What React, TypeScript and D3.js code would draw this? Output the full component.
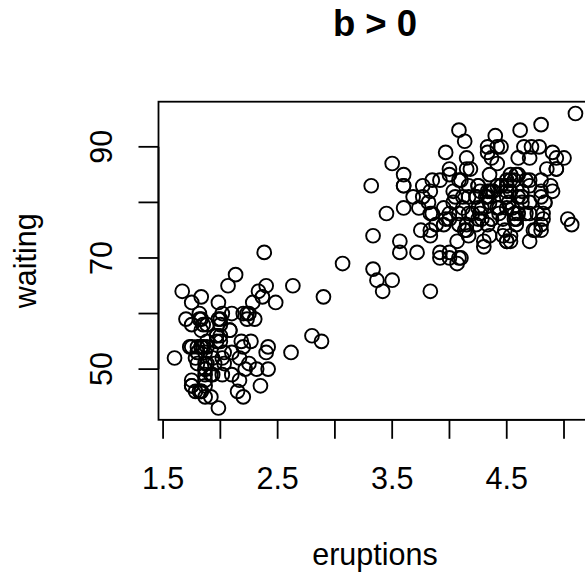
import React from "react";
import * as d3 from "d3";

const eruptions = [3.6,1.8,3.333,2.283,4.533,2.883,4.7,3.6,1.95,4.35,1.833,3.917,4.2,1.75,4.7,2.167,1.75,4.8,1.6,4.25,1.8,1.75,3.45,3.067,4.533,3.6,1.967,4.083,3.85,4.433,4.3,4.467,3.367,4.033,3.833,2.017,1.867,4.833,1.833,4.783,4.35,1.883,4.567,1.75,4.533,3.317,3.833,2.1,4.633,2,4.8,4.716,1.833,4.833,1.733,4.883,3.717,1.667,4.567,4.317,2.233,4.5,1.75,4.8,1.817,4.4,4.167,4.7,2.067,4.7,4.033,1.967,4.5,4,1.983,5.067,2.017,4.567,3.883,3.6,4.133,4.333,4.1,2.633,4.067,4.933,3.95,4.517,2.167,4,2.2,4.333,1.867,4.817,1.833,4.3,4.667,3.75,1.867,4.9,2.483,4.367,2.1,4.5,4.05,1.867,4.7,1.783,4.85,3.683,4.733,2.3,4.9,4.417,1.7,4.633,2.317,4.6,1.817,4.417,2.617,4.067,4.25,1.967,4.6,3.767,1.917,4.5,2.267,4.65,1.867,4.167,2.8,4.333,1.833,4.383,1.883,4.933,2.033,3.733,4.233,2.233,4.533,4.817,4.333,1.983,4.633,2.017,5.1,1.8,5.033,4,2.4,4.6,3.567,4,4.5,4.083,1.8,3.967,2.2,4.15,2,3.833,3.5,4.583,2.367,5,1.933,4.617,1.917,2.083,4.583,3.333,4.167,4.333,4.5,2.417,4,4.167,1.883,4.583,4.25,3.767,2.033,4.433,4.083,1.833,4.417,2.183,4.8,1.833,4.8,4.1,3.966,4.233,3.5,4.366,2.25,4.667,2.1,4.35,4.133,1.867,4.6,1.783,4.367,3.85,1.933,4.5,2.383,4.7,1.867,3.833,3.417,4.233,2.4,4.8,2,4.15,1.867,4.267,1.75,4.483,4,4.117,4.083,4.267,3.917,4.55,4.083,2.417,4.183,2.217,4.45,1.883,1.85,4.283,3.95,2.333,4.15,2.35,4.933,2.9,4.583,3.833,2.083,4.367,2.133,4.35,2.2,4.45,3.567,4.5,4.15,3.817,3.917,4.45,2,4.283,4.767,4.533,1.85,4.25,1.983,2.25,4.75,4.117,2.15,4.417,1.817,4.467];

const waiting = [79,54,74,62,85,55,88,85,51,85,54,84,78,47,83,52,62,84,52,79,51,47,78,69,74,83,55,76,78,79,73,77,66,80,74,52,48,80,59,90,80,58,84,58,73,83,64,53,82,59,75,90,54,80,54,83,71,64,77,81,59,84,48,82,60,92,78,78,65,73,82,56,79,71,62,76,60,78,76,83,75,82,70,65,73,88,76,80,48,86,60,90,50,78,63,72,84,75,51,82,62,88,49,83,81,47,84,52,86,81,75,59,89,79,59,81,50,85,59,87,53,69,77,56,88,81,45,82,55,90,45,83,56,89,46,82,51,86,53,79,81,60,82,77,76,59,80,49,96,53,77,77,65,81,71,70,81,93,53,89,45,86,58,78,66,76,63,88,52,93,49,57,77,68,81,81,73,50,85,74,55,77,83,83,51,78,84,46,83,55,81,57,76,84,77,81,87,77,51,78,60,82,91,53,78,46,77,84,49,83,71,80,49,75,64,76,53,94,55,76,50,82,54,75,78,79,78,78,70,79,70,54,86,50,90,54,54,77,79,64,75,47,86,63,85,82,57,82,67,74,54,83,73,73,88,80,71,83,56,79,78,84,58,83,43,60,75,81,46,90,46,74];

const xTicks = [1.5, 2, 2.5, 3, 3.5, 4, 4.5, 5];
const xLabels = [1.5, 2.5, 3.5, 4.5];
const yTicks = [50, 60, 70, 80, 90];
const yLabels = [50, 70, 90];

const FONT = "'Liberation Sans', Arial, Helvetica, sans-serif";

export default function App() {
  const W = 585, H = 577;
  const left = 158.5, right = 591.5, top = 101.7, bottom = 419.8;
  const x = d3.scaleLinear().domain([1.46, 5.24]).range([left, right]);
  const y = d3.scaleLinear().domain([40.88, 98.12]).range([bottom, top]);
  const fs = 30.5;
  const cx = (left + right) / 2;
  const cy = (top + bottom) / 2;
  return (
    <svg width={W} height={H} style={{ position: "absolute", left: 0, top: 0, background: "#fff" }}>
      <rect x={0} y={0} width={W} height={H} fill="#fff" />
      <text x={cx} y={36} textAnchor="middle" fontFamily={FONT} fontWeight="bold" fontSize={36.5}>b &gt; 0</text>
      <g fill="none" stroke="#000" strokeWidth={1.9}>
        {eruptions.map((e, i) => (
          <circle key={i} cx={x(e)} cy={y(waiting[i])} r={6.9} />
        ))}
      </g>
      <rect x={left} y={top} width={right - left} height={bottom - top} fill="none" stroke="#000" strokeWidth={1.8} />
      <g stroke="#000" strokeWidth={1.8}>
        <line x1={x(xTicks[0])} x2={x(xTicks[xTicks.length - 1])} y1={bottom} y2={bottom} />
        {xTicks.map((t) => (
          <line key={t} x1={x(t)} x2={x(t)} y1={bottom} y2={bottom + 19} />
        ))}
        <line x1={left} x2={left} y1={y(yTicks[0])} y2={y(yTicks[yTicks.length - 1])} />
        {yTicks.map((t) => (
          <line key={t} x1={left} x2={left - 20} y1={y(t)} y2={y(t)} />
        ))}
      </g>
      <g fontFamily={FONT} fontSize={fs} textAnchor="middle">
        {xLabels.map((t) => (
          <text key={t} x={x(t)} y={489}>{t.toFixed(1)}</text>
        ))}
        {yLabels.map((t) => (
          <text key={t} transform={`translate(111.7,${y(t)}) rotate(-90)`}>{t}</text>
        ))}
        <text x={cx} y={565}>eruptions</text>
        <text transform={`translate(36,${cy}) rotate(-90)`}>waiting</text>
      </g>
    </svg>
  );
}
